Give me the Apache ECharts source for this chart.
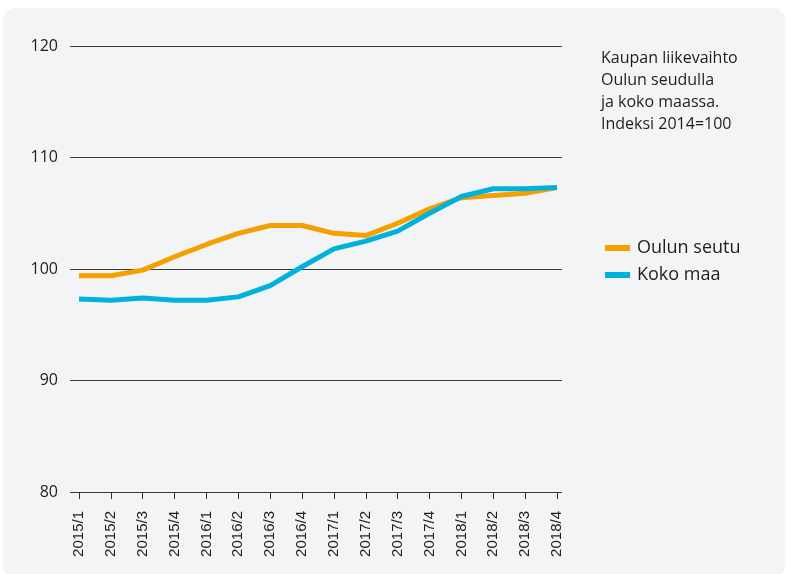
<!DOCTYPE html>
<html>
<head>
    <meta charset="utf-8">
    <title>Kaupan liikevaihto</title>
    <script src="https://cdn.jsdelivr.net/npm/echarts@6/dist/echarts.min.js"></script>
    <style>
        html, body { margin: 0; padding: 0; background: #fff; }
        #panel { position: absolute; left: 3px; top: 8px; width: 782px; height: 570px;
                 background: #f3f4f6; border-radius: 12px; }
        #chart { position: absolute; left: 0; top: 0; width: 788px; height: 574px; }
    </style>
</head>
<body>
<div id="panel"></div>
<div id="chart"></div>
<script type="text/javascript">
    // neljännesvuodet
    var quarters = ['2015/1', '2015/2', '2015/3', '2015/4', '2016/1', '2016/2', '2016/3', '2016/4',
                    '2017/1', '2017/2', '2017/3', '2017/4', '2018/1', '2018/2', '2018/3', '2018/4'];
    // indeksi 2014=100
    var ouluValues = [99.4, 99.4, 99.9, 101.1, 102.2, 103.2, 103.9, 103.9,
                      103.2, 103.0, 104.1, 105.4, 106.4, 106.6, 106.8, 107.3];
    var kokoValues = [97.3, 97.2, 97.4, 97.2, 97.2, 97.5, 98.5, 100.2,
                      101.8, 102.5, 103.4, 105.0, 106.5, 107.2, 107.2, 107.3];
    var yTicks = [80, 90, 100, 110, 120];

    var myChart = echarts.init(document.getElementById('chart'));

    myChart.setOption({
        backgroundColor: 'transparent',
        animation: false,
        title: {
            text: 'Kaupan liikevaihto\nOulun seudulla\nja koko maassa.\nIndeksi 2014=100',
            left: 596,
            top: 42,
            textStyle: {
                fontFamily: 'Open Sans',
                fontSize: 16,
                fontWeight: 'normal',
                lineHeight: 22,
                color: '#1e1e1e'
            }
        },
        legend: {
            orient: 'vertical',
            left: 600,
            top: 233,
            icon: 'rect',
            itemWidth: 25,
            itemHeight: 6,
            itemGap: 7,
            textStyle: {
                fontFamily: 'Open Sans',
                fontSize: 18,
                lineHeight: 20,
                color: '#1e1e1e',
                padding: [0, 0, 0, 2]
            },
            data: ['Oulun seutu', 'Koko maa']
        },
        grid: [
            // datan alue
            { left: 79, right: 231, top: 46, bottom: 82 },
            // apuviivat hieman leveämpinä
            { left: 70, right: 226, top: 46, bottom: 82 }
        ],
        xAxis: [
            {
                type: 'category',
                gridIndex: 0,
                boundaryGap: false,
                data: quarters,
                axisLine: { show: false },
                axisTick: { show: true, alignWithLabel: true, length: 7, lineStyle: { color: '#333', width: 1 } },
                axisLabel: {
                    rotate: 90,
                    margin: 19,
                    interval: 0,
                    fontFamily: 'Liberation Sans',
                    fontSize: 15,
                    color: '#1e1e1e'
                },
                splitLine: { show: false }
            },
            {
                type: 'value',
                gridIndex: 1,
                min: 0,
                max: 1,
                show: false
            }
        ],
        yAxis: [
            {
                type: 'value',
                gridIndex: 0,
                min: yTicks[0],
                max: yTicks[yTicks.length - 1],
                interval: 10,
                axisLine: { show: false },
                axisTick: { show: false },
                splitLine: { show: false },
                axisLabel: {
                    margin: 21,
                    fontFamily: 'Open Sans',
                    fontSize: 16,
                    color: '#1e1e1e'
                }
            },
            {
                type: 'value',
                gridIndex: 1,
                min: yTicks[0],
                max: yTicks[yTicks.length - 1],
                interval: 10,
                axisLine: { show: false },
                axisTick: { show: false },
                axisLabel: { show: false },
                splitLine: { show: true, lineStyle: { color: '#3a3a3a', width: 1 } }
            }
        ],
        series: [
            {
                name: 'Oulun seutu',
                type: 'line',
                xAxisIndex: 0,
                yAxisIndex: 0,
                data: ouluValues,
                symbol: 'none',
                color: '#f6a000',
                lineStyle: { width: 5, color: '#f6a000' }
            },
            {
                name: 'Koko maa',
                type: 'line',
                xAxisIndex: 0,
                yAxisIndex: 0,
                data: kokoValues,
                symbol: 'none',
                color: '#00b1dc',
                lineStyle: { width: 5, color: '#00b1dc' }
            }
        ]
    });
</script>
</body>
</html>
